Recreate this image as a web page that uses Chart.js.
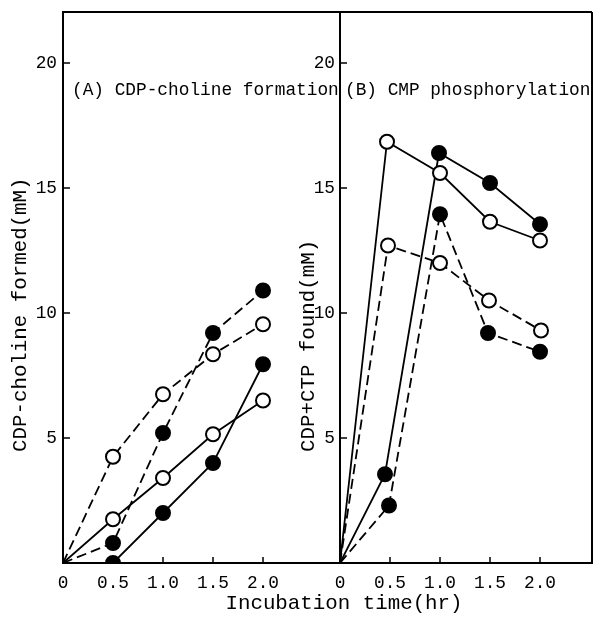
<!DOCTYPE html>
<html>
<head>
<meta charset="utf-8">
<script src="https://cdn.jsdelivr.net/npm/chart.js@4"></script>
<style>
  html, body { margin: 0; padding: 0; background: #fff; }
  #wrap { position: relative; width: 595px; height: 624px; }
  canvas { position: absolute; left: 0; top: 0; }
</style>
</head>
<body>
<div id="wrap">
  <canvas id="chartA" width="595" height="624"></canvas>
  <canvas id="chartB" width="595" height="624"></canvas>
</div>
<script>
// ---- Data ----
const xTicks = [0, 0.5, 1.0, 1.5, 2.0];
const xTickLabels = ['0', '0.5', '1.0', '1.5', '2.0'];
const yTicks = [5, 10, 15, 20];

// Panel A: CDP-choline formation
const timeA = [0, 0.5, 1.0, 1.5, 2.0];
const aDashFilled = [0, 0.8, 5.2, 9.2, 10.9];
const aDashOpen   = [0, 4.25, 6.75, 8.35, 9.55];
const aSolidOpen  = [0, 1.75, 3.4, 5.15, 6.5];
const aSolidFilled = [0, 0, 2.0, 4.0, 7.95];

// Panel B: CMP phosphorylation
const timeBSolidOpen   = [0, 0.47, 1.0, 1.5, 2.0];
const timeBSolidFilled = [0, 0.45, 0.99, 1.5, 2.0];
const timeBDashOpen    = [0, 0.48, 1.0, 1.49, 2.01];
const timeBDashFilled  = [0, 0.49, 1.0, 1.48, 2.0];
const bSolidOpen   = [0, 16.85, 15.6, 13.65, 12.9];
const bSolidFilled = [0, 3.55, 16.4, 15.2, 13.55];
const bDashOpen    = [0, 12.7, 12.0, 10.5, 9.3];
const bDashFilled  = [0, 2.3, 13.95, 9.2, 8.45];

const FONT = "'Liberation Mono', 'DejaVu Sans Mono', monospace";
const TICK_SIZE = 17.8;
const TITLE_SIZE = 20.8;

function pts(xs, ys) { return xs.map((x, i) => ({ x: x, y: ys[i] })); }

function series(xs, ys, filled, dashed) {
  return {
    data: pts(xs, ys),
    borderColor: '#000',
    borderWidth: 1.8,
    borderDash: dashed ? [10, 5] : [],
    backgroundColor: filled ? '#000' : '#fff',
    pointBackgroundColor: filled ? '#000' : '#fff',
    pointBorderColor: '#000',
    pointBorderWidth: 2,
    pointRadius: (c) => (c.raw && c.raw.x === 0 ? 0 : 7),
    pointHoverRadius: 7,
    tension: 0,
    fill: false
  };
}

function framePlugin(opts) {
  return {
    id: 'frame' + opts.id,
    afterDraw(chart) {
      const ctx = chart.ctx;
      const a = chart.chartArea;
      const xs = chart.scales.x, ys = chart.scales.y;
      ctx.save();
      ctx.strokeStyle = '#000';
      ctx.lineWidth = 2;
      ctx.beginPath();
      ctx.moveTo(a.left, a.top); ctx.lineTo(a.right, a.top);
      ctx.moveTo(a.right, a.top); ctx.lineTo(a.right, a.bottom);
      ctx.stroke();
      ctx.lineWidth = 1.5;
      ctx.beginPath();
      xTicks.forEach(v => {
        if (v === 0) return;
        const px = xs.getPixelForValue(v);
        ctx.moveTo(px, a.bottom); ctx.lineTo(px, a.bottom - 6);
      });
      yTicks.forEach(v => {
        const py = ys.getPixelForValue(v);
        ctx.moveTo(a.left, py); ctx.lineTo(a.left + 7, py);
      });
      ctx.stroke();
      // panel label
      ctx.fillStyle = '#000';
      ctx.font = TICK_SIZE + 'px ' + FONT;
      ctx.textBaseline = 'middle';
      ctx.textAlign = 'left';
      ctx.fillText(opts.label, a.left + opts.labelDx, 90);
      // y title
      ctx.save();
      ctx.font = TITLE_SIZE + 'px ' + FONT;
      ctx.translate(opts.yTitleX, 452);
      ctx.rotate(-Math.PI / 2);
      ctx.textAlign = 'left';
      ctx.textBaseline = 'middle';
      ctx.fillText(opts.yTitle, 0, 0);
      ctx.restore();
      if (opts.xTitle) {
        ctx.font = TITLE_SIZE + 'px ' + FONT;
        ctx.textAlign = 'center';
        ctx.textBaseline = 'middle';
        ctx.fillText(opts.xTitle, 344, 603);
      }
      ctx.restore();
    }
  };
}

function makeChart(id, datasets, xMax, padLeft, padRight, yWidth, yPad, plug) {
  return new Chart(document.getElementById(id), {
    type: 'line',
    data: { datasets: datasets },
    options: {
      responsive: false,
      animation: false,
      devicePixelRatio: 1,
      layout: { autoPadding: false, padding: { top: 12, right: padRight, left: padLeft, bottom: 0 } },
      plugins: { legend: { display: false }, tooltip: { enabled: false } },
      scales: {
        x: {
          type: 'linear',
          min: 0, max: xMax,
          afterFit: (s) => { s.height = 61; s.paddingLeft = 0; s.paddingRight = 0; },
          afterBuildTicks: (s) => { s.ticks = xTicks.map(v => ({ value: v })); },
          ticks: {
            color: '#000',
            font: { family: FONT, size: TICK_SIZE },
            padding: 10,
            maxRotation: 0,
            autoSkip: false,
            callback: (v) => { const i = xTicks.indexOf(v); return i >= 0 ? xTickLabels[i] : ''; }
          },
          grid: { display: true, drawOnChartArea: false, drawTicks: false },
          border: { display: true, color: '#000', width: 2 }
        },
        y: {
          type: 'linear',
          min: 0, max: 22.04,
          afterFit: (s) => { s.width = yWidth; s.paddingTop = 0; s.paddingBottom = 0; },
          afterBuildTicks: (s) => { s.ticks = yTicks.map(v => ({ value: v })); },
          ticks: {
            color: '#000',
            font: { family: FONT, size: TICK_SIZE },
            padding: yPad,
            autoSkip: false,
            callback: (v) => String(v)
          },
          grid: { display: true, drawOnChartArea: false, drawTicks: false },
          border: { display: true, color: '#000', width: 2 }
        }
      }
    },
    plugins: [plug]
  });
}

makeChart('chartA', [
  series(timeA, aDashFilled, true, true),
  series(timeA, aDashOpen, false, true),
  series(timeA, aSolidOpen, false, false),
  series(timeA, aSolidFilled, true, false)
], 2.77, 0, 255, 63, 6, framePlugin({
  id: 'A', label: '(A) CDP-choline formation', labelDx: 9,
  yTitle: 'CDP-choline formed(mM)', yTitleX: 20,
  xTitle: 'Incubation time(hr)'
}));

makeChart('chartB', [
  series(timeBSolidOpen, bSolidOpen, false, false),
  series(timeBSolidFilled, bSolidFilled, true, false),
  series(timeBDashOpen, bDashOpen, false, true),
  series(timeBDashFilled, bDashFilled, true, true)
], 2.52, 280, 3, 60, 5, framePlugin({
  id: 'B', label: '(B) CMP phosphorylation', labelDx: 5,
  yTitle: 'CDP+CTP found(mM)', yTitleX: 308,
  xTitle: null
}));
</script>
</body>
</html>
